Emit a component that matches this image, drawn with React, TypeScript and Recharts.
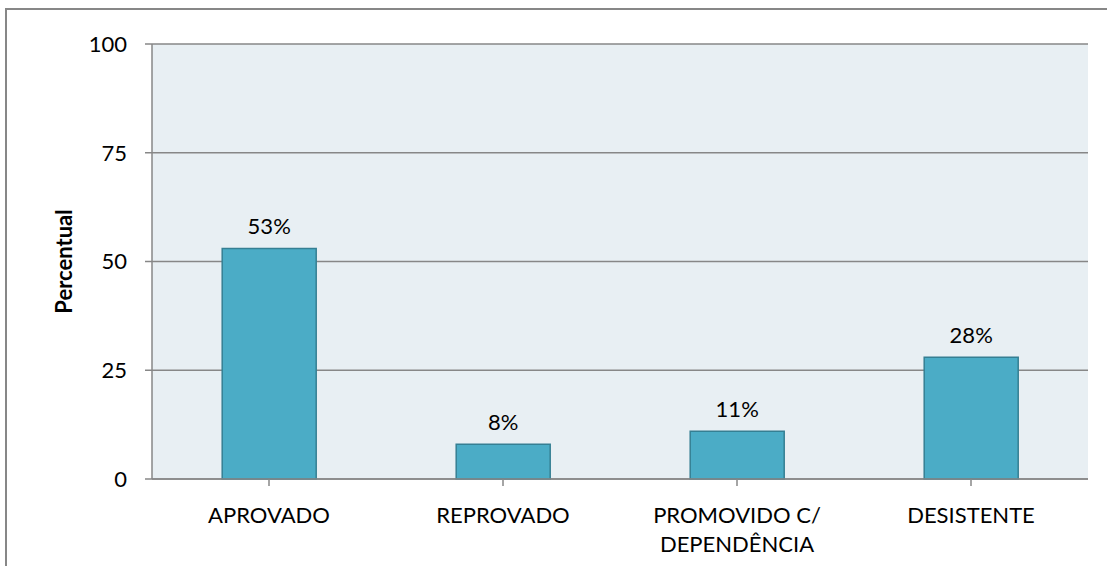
import { BarChart, Bar, XAxis, YAxis, CartesianGrid, LabelList } from 'recharts';

const categories = ['APROVADO', 'REPROVADO', 'PROMOVIDO C/ DEPENDÊNCIA', 'DESISTENTE'];
const percentuais = [53, 8, 11, 28];
const yTicks = [0, 25, 50, 75, 100];

const chartData = categories.map((c, i) => ({ name: c, value: percentuais[i] }));

const FONT = 'Lato, "Open Sans", sans-serif';

// splits the long category onto two lines like the original
function CategoryTick(props: any) {
  const { x, y, payload } = props;
  const text: string = payload.value;
  const lines = text === 'PROMOVIDO C/ DEPENDÊNCIA' ? ['PROMOVIDO C/', 'DEPENDÊNCIA'] : [text];
  return (
    <g transform={`translate(${x},${y})`}>
      {lines.map((l, i) => (
        <text key={i} x={0} y={27 + i * 29} dy="0.35em" textAnchor="middle" fill="#000" fontSize={22} fontFamily={FONT}>
          {l}
        </text>
      ))}
    </g>
  );
}

export default function App() {
  return (
    <div style={{ position: 'fixed', left: 0, top: 0, width: 1107, height: 566, background: '#fff', overflow: 'hidden' }}>
      <div style={{ position: 'absolute', left: 5, top: 8, width: 1200, height: 700, borderLeft: '2px solid #878787', borderTop: '2px solid #878787' }} />
      <div style={{ position: 'absolute', left: 0, top: 0 }}>
        <BarChart
          width={1107}
          height={566}
          data={chartData}
          margin={{ top: 44, right: 19, bottom: 57, left: 0 }}
          barCategoryGap="30%"
        >
          <CartesianGrid vertical={false} stroke="#878787" strokeWidth={1.5} fill="#E8EFF3" />
          <XAxis
            dataKey="name"
            stroke="#878787"
            strokeWidth={1.5}
            tickSize={7}
            tick={<CategoryTick />}
            interval={0}
          />
          <YAxis
            width={152}
            domain={[0, 100]}
            ticks={yTicks}
            stroke="#878787"
            strokeWidth={1.5}
            tickSize={7}
            tick={{ fill: '#000', fontSize: 22, fontFamily: FONT }}
            tickMargin={18}
            label={{
              value: 'Percentual',
              angle: -90,
              position: 'insideLeft',
              dx: 59,
              style: { fontWeight: 'bold', fontSize: 22, fill: '#000', fontFamily: FONT, textAnchor: 'middle' },
            }}
          />
          <Bar dataKey="value" fill="#4BACC6" stroke="#357F93" strokeWidth={1.5} isAnimationActive={false}>
            <LabelList
              dataKey="value"
              position="top"
              offset={14}
              formatter={(v: any) => `${v}%`}
              style={{ fill: '#000', fontSize: 22, fontFamily: FONT }}
            />
          </Bar>
        </BarChart>
      </div>
    </div>
  );
}
